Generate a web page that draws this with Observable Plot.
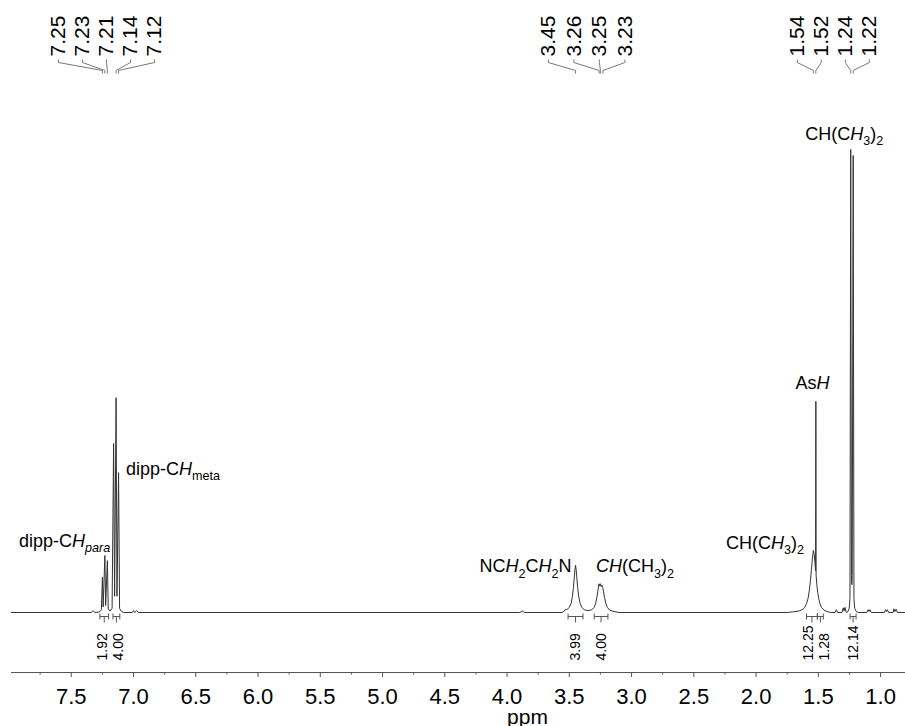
<!DOCTYPE html>
<html><head><meta charset="utf-8">
<script src="https://cdn.jsdelivr.net/npm/d3@7"></script>
<script src="https://cdn.jsdelivr.net/npm/@observablehq/plot@0.6"></script>
<style>body{margin:0;background:#fff;}</style>
</head><body><div id="chart"></div>
<script>
// ---------- DATA ----------
// 1H NMR trace: chemical shift (ppm) and relative intensity (tallest line = 100)
const spectrumPpm = [7.98,7.34,7.325,7.31,7.275,7.258,7.25,7.244,7.23,7.224,7.21,7.203,7.19,7.172,7.16,7.152,7.14,7.133,7.12,7.112,7.10,7.08,7.01,7.0,6.99,6.975,6.96,
  3.90,3.875,3.86,3.56,3.54,3.53,3.52,3.50,3.485,3.475,3.467,3.46,3.455,3.45,3.445,3.44,3.433,3.425,3.413,3.40,3.38,3.35,
  3.32,3.30,3.288,3.278,3.27,3.262,3.256,3.25,3.244,3.238,3.232,3.225,3.217,3.207,3.195,3.175,3.14,3.10,
  1.75,1.70,1.66,1.63,1.61,1.595,1.583,1.572,1.563,1.555,1.548,1.54,1.533,1.526,1.522,1.52,1.518,1.512,1.505,1.497,1.487,1.475,1.455,1.43,1.40,
  1.365,1.355,1.345,1.31,1.30,1.293,1.286,1.275,1.262,1.252,1.246,1.24,1.234,1.231,1.228,1.22,1.214,1.208,1.195,1.18,
  1.11,1.10,1.093,1.085,1.075,0.97,0.96,0.953,0.946,0.935,0.90,0.893,0.885,0.875,0.865,0.80];
const spectrumInt = [0,0,0.4,0,0.1,0.6,7.6,1.2,12.3,1.5,11.2,0.8,0.3,0.9,36.5,3.5,46.4,3.5,30.2,0.9,0.3,0,0,0.4,0,0.4,0,
  0,0.3,0,0,0.3,0.7,0.6,1.1,2.0,3.5,5.4,7.6,9.2,10.2,9.2,7.6,5.4,3.5,2.0,1.1,0.6,0.4,
  0.6,1.1,2.0,3.4,4.8,6.2,5.7,6.2,5.6,5.9,5.4,4.5,3.2,2.0,1.1,0.5,0.2,0,
  0,0.15,0.3,0.6,1.1,1.9,3.0,4.8,7.0,9.3,11.6,13.4,12.5,10.3,9.0,45.6,8.0,6.0,4.3,3.0,1.9,1.1,0.5,0.2,0,
  0,0.6,0,0,1.0,0.3,1.1,0,0.2,0.9,3,100,8,6,8,98.7,3,0.9,0.2,0,
  0,0.6,0.2,0.6,0,0,0.6,0.2,0.6,0,0,0.8,0.2,0.7,0,0];

// peak pick labels (ppm) and the multiplet group each belongs to
const peakLabels = [7.25,7.23,7.21,7.14,7.12,3.45,3.26,3.25,3.23,1.54,1.52,1.24,1.22];
const peakGroups = [0,0,0,0,0,1,1,1,1,2,2,2,2];

// integrals: value and ppm range
const integralValues = [1.92,4.00,3.99,4.00,12.25,1.28,12.14];
const integralFrom   = [7.27,7.165,3.51,3.30,1.595,1.508,1.245];
const integralTo     = [7.20,7.11,3.39,3.19,1.508,1.46,1.197];

// assignments (markup: <i> italic, <sub> subscript), anchor ppm and intensity
const assignText = ["dipp-C<i>H</i><sub><i>para</i></sub>","dipp-C<i>H</i><sub>meta</sub>","NC<i>H</i><sub>2</sub>C<i>H</i><sub>2</sub>N",
  "<i>CH</i>(CH<sub>3</sub>)<sub>2</sub>","CH(C<i>H</i><sub>3</sub>)<sub>2</sub>","As<i>H</i>","CH(C<i>H</i><sub>3</sub>)<sub>2</sub>"];
const assignPpm = [7.554,6.683,3.852,2.972,1.929,1.547,1.292];
const assignInt = [14.25,29.8,8.64,8.64,13.82,48.31,102.09];

// axis ticks
const majorTicks = [7.5,7.0,6.5,6.0,5.5,5.0,4.5,4.0,3.5,3.0,2.5,2.0,1.5,1.0];
const minorTicks = [7.75,7.25,6.75,6.25,5.75,5.25,4.75,4.25,3.75,3.25,2.75,2.25,1.75,1.25];

// ---------- LAYOUT ----------
const W = 905, H = 726, mL = 11, mR = 0, mT = 0, mB = 54;
const xDomain = [7.98, 0.80], yDomain = [-12.96, 132.18];
const xS = d3.scaleLinear().domain(xDomain).range([mL, W - mR]);
const yS = d3.scaleLinear().domain(yDomain).range([H - mB, mT]);
const font = "'Liberation Sans', Arial, sans-serif";

const spectrum = spectrumPpm.map((p, i) => ({ppm: p, v: spectrumInt[i]}));

// peak label placement
const spacing = [24, 25.5, 24], shift = [-4, -2.6, 0];
const peakRows = [], connectors = [];
d3.groups(peakLabels.map((v, i) => ({v, g: peakGroups[i]})), d => d.g).forEach(([g, rows]) => {
  const px = rows.map(r => xS(r.v));
  const c = (d3.min(px) + d3.max(px)) / 2 + shift[g];
  rows.forEach((r, k) => {
    const lx = c + (k - (rows.length - 1) / 2) * spacing[g];
    const pk = xS(r.v);
    peakRows.push({x: xS.invert(lx), y: yS.invert(56), t: r.v.toFixed(2)});
    connectors.push({x1: xS.invert(lx), x2: xS.invert(lx), y1: yS.invert(59), y2: yS.invert(62)});
    connectors.push({x1: xS.invert(lx), x2: xS.invert(pk), y1: yS.invert(62), y2: yS.invert(70)});
    connectors.push({x1: xS.invert(pk), x2: xS.invert(pk), y1: yS.invert(70), y2: yS.invert(73)});
  });
});

// integral marks
const intSegs = [], intLabelRows = [];
integralValues.forEach((val, i) => {
  const a = integralFrom[i], b = integralTo[i], m = (a + b) / 2;
  intSegs.push({x1: a, x2: b, y1: yS.invert(616), y2: yS.invert(616)});
  intSegs.push({x1: a, x2: a, y1: yS.invert(613), y2: yS.invert(619)});
  intSegs.push({x1: b, x2: b, y1: yS.invert(613), y2: yS.invert(619)});
  intSegs.push({x1: m, x2: m, y1: yS.invert(616), y2: yS.invert(622)});
  intLabelRows.push({px: xS(m), t: val.toFixed(2)});
});
for (let i = 1; i < intLabelRows.length; i++) {
  const gap = intLabelRows[i].px - intLabelRows[i - 1].px;
  if (gap < 16) { const d = (16 - gap) / 2; intLabelRows[i - 1].px -= d; intLabelRows[i].px += d; }
}
intLabelRows.forEach(r => { r.x = xS.invert(r.px); r.y = yS.invert(660); });

const assignRows = assignText.map((t, i) => ({x: assignPpm[i], y: assignInt[i], id: "@" + i}));
const FS = 18;

const svg = Plot.plot({
  width: W, height: H, marginLeft: mL, marginRight: mR, marginTop: mT, marginBottom: mB,
  x: {domain: xDomain, axis: null},
  y: {domain: yDomain, axis: null},
  style: {fontFamily: font, background: "#fff", overflow: "visible"},
  marks: [
    Plot.ruleY([yDomain[0]], {stroke: "#555", strokeWidth: 1.2}),
    Plot.axisX(majorTicks, {anchor: "bottom", tickSize: 5, tickPadding: 11, tickFormat: d => d.toFixed(1),
      fontSize: 22, stroke: "#555", fill: "#000", label: null}),
    Plot.ruleX(minorTicks, {x: d => d, y1: yS.invert(H - mB), y2: yS.invert(H - mB + 2.5), stroke: "#555"}),
    Plot.text([{x: xS.invert(527), y: yS.invert(723)}], {x: "x", y: "y", text: () => "ppm", fontSize: 21,
      lineAnchor: "bottom", textAnchor: "middle", fill: "#000"}),
    Plot.line(spectrum, {x: "ppm", y: "v", stroke: "#333", strokeWidth: 1}),
    Plot.link(connectors, {x1: "x1", x2: "x2", y1: "y1", y2: "y2", stroke: "#777", strokeWidth: 1}),
    Plot.text(peakRows, {x: "x", y: "y", text: "t", rotate: -90, textAnchor: "start", lineAnchor: "middle",
      fontSize: 21, fill: "#000"}),
    Plot.link(intSegs, {x1: "x1", x2: "x2", y1: "y1", y2: "y2", stroke: "#555", strokeWidth: 1}),
    Plot.text(intLabelRows, {x: "x", y: "y", text: "t", rotate: -90, textAnchor: "start", lineAnchor: "middle",
      fontSize: 14, fill: "#000"}),
    Plot.text(assignRows, {x: "x", y: "y", text: "id", fontSize: FS, textAnchor: "middle", lineAnchor: "bottom",
      fill: "#000"})
  ]
});

// rich text (italic / subscript) for assignment labels
const SUB = 0.7, SHIFT = 0.28 * FS;
function richify(el, markup) {
  while (el.firstChild) el.removeChild(el.firstChild);
  const re = /<(\/?)(i|sub)>/g;
  let italic = false, sub = false, last = 0, pending = 0, m;
  const push = (txt) => {
    if (!txt) return;
    const ts = document.createElementNS("http://www.w3.org/2000/svg", "tspan");
    ts.textContent = txt;
    if (italic) ts.setAttribute("font-style", "italic");
    if (sub) ts.setAttribute("font-size", (FS * SUB) + "px");
    if (pending) { ts.setAttribute("dy", pending); pending = 0; }
    el.appendChild(ts);
  };
  while ((m = re.exec(markup))) {
    push(markup.slice(last, m.index));
    last = re.lastIndex;
    const closing = m[1] === "/", tag = m[2];
    if (tag === "i") italic = !closing;
    else { sub = !closing; pending += closing ? -SHIFT : SHIFT; }
  }
  push(markup.slice(last));
}
svg.querySelectorAll("text").forEach(el => {
  const mm = /^@(\d+)$/.exec(el.textContent.trim());
  if (mm) richify(el, assignText[+mm[1]]);
});

document.getElementById("chart").appendChild(svg);
</script>
</body></html>
